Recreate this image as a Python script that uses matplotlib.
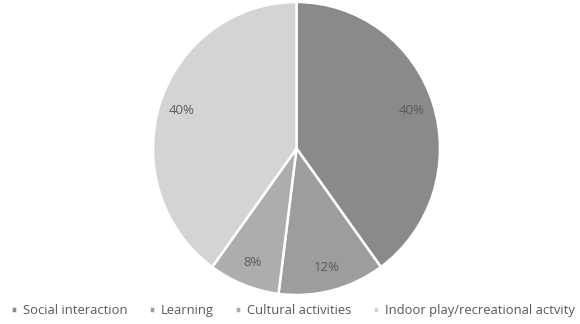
import matplotlib.pyplot as plt

labels = ["Social interaction", "Learning", "Cultural activities", "Indoor play/recreational actvity"]
values = [40, 12, 8, 40]
colors = ["#8a8a8c", "#9d9d9f", "#adadaf", "#d4d4d6"]

plt.rcParams['font.family'] = ['Open Sans', 'DejaVu Sans']

fig = plt.figure(figsize=(5.8, 3.24), dpi=100)
# pie box in pixels: x 153..440, y 2..295 (from top)
ax = fig.add_axes([153/580, 29/324, 287/580, 293/324])

wedges, texts, autotexts = ax.pie(values, colors=colors, startangle=90, counterclock=False,
                                  autopct='%1.0f%%', pctdistance=0.84,
                                  wedgeprops=dict(edgecolor='white', linewidth=1.8),
                                  textprops=dict(color='#5a5a5a', fontsize=9.5))
ax.set_xlim(-1, 1)
ax.set_ylim(-1, 1)
ax.set_aspect('auto')

fig.legend(wedges, labels, loc='lower center', bbox_to_anchor=(0.505, 0.005), ncol=4,
           frameon=False, fontsize=9.4, handlelength=0.5, handleheight=0.5,
           handletextpad=0.45, columnspacing=1.6, borderpad=0.2, borderaxespad=0.2,
           labelcolor='#595959')

fig.savefig("out.png", dpi=100)
